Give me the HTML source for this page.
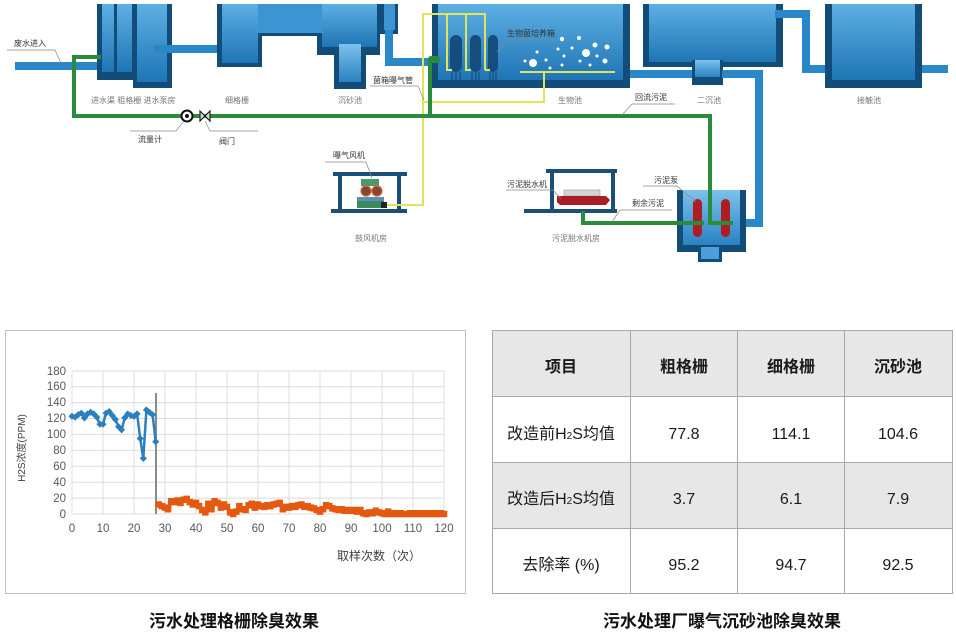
<!DOCTYPE html>
<html><head><meta charset="utf-8">
<style>
html,body{margin:0;padding:0;background:#fff;}
svg{display:block;}
text{font-family:"Liberation Sans","Noto Sans CJK SC",sans-serif;}
</style></head>
<body>
<svg width="956" height="634" viewBox="0 0 956 634" xmlns="http://www.w3.org/2000/svg">
<defs>
<linearGradient id="tk" x1="0" y1="0" x2="0" y2="1">
<stop offset="0" stop-color="#5db0e3"/><stop offset="1" stop-color="#1f75b5"/>
</linearGradient>
<linearGradient id="tk2" x1="0" y1="0" x2="0" y2="1">
<stop offset="0" stop-color="#7cc2ec"/><stop offset="1" stop-color="#2a82c2"/>
</linearGradient>
</defs>
<rect width="956" height="634" fill="#fff"/>

<!-- ===== Top process diagram ===== -->
<g fill="#2b88c8">
<rect x="15" y="62" width="84" height="8"/>
</g>
<!-- left group -->
<rect x="97" y="4" width="40" height="76" fill="#124d7a"/>
<rect x="133" y="4" width="39" height="84" fill="#124d7a"/>
<rect x="102" y="4" width="12" height="68" fill="url(#tk)"/>
<rect x="117" y="4" width="15" height="68" fill="url(#tk)"/>
<rect x="137" y="4" width="30" height="78" fill="url(#tk)"/>
<rect x="154" y="45" width="65" height="8" fill="#2b88c8"/>
<!-- fine screen + channel + grit -->
<rect x="217" y="4" width="45" height="63" fill="#124d7a"/>
<rect x="222" y="4" width="36" height="59" fill="url(#tk)"/>
<rect x="258" y="4" width="62" height="32" fill="#124d7a"/>
<rect x="317" y="4" width="63" height="51" fill="#124d7a"/>
<rect x="334" y="47" width="32" height="42" fill="#124d7a"/>
<rect x="258" y="4" width="64" height="29" fill="#3c95d2"/>
<rect x="322" y="4" width="55" height="43" fill="url(#tk)"/>
<rect x="339" y="44" width="22" height="38" fill="url(#tk2)"/>
<rect x="380" y="4" width="18" height="30" fill="#124d7a"/>
<rect x="384" y="4" width="11" height="26" fill="#3c95d2"/>
<rect x="385" y="30" width="8" height="36" fill="#2b88c8"/>
<rect x="385" y="58" width="50" height="8" fill="#2b88c8"/>

<!-- bio tank -->
<rect x="432" y="4" width="198" height="84" fill="#124d7a"/>
<rect x="438" y="4" width="185" height="76" fill="url(#tk)"/>
<g fill="#154e7c">
<rect x="450" y="35" width="12" height="37" rx="6"/>
<rect x="470" y="35" width="11" height="37" rx="5.5"/>
<rect x="488" y="35" width="10" height="37" rx="5"/>
</g>
<g stroke="#154e7c" stroke-width="1.2">
<path d="M452 72V80M456 72V80M460 72V80M472 72V80M476 72V80M479 72V80M490 72V80M493 72V80M496 72V80"/>
</g>
<g fill="#fff">
<circle cx="525" cy="61" r="1.5"/><circle cx="533" cy="63" r="4"/><circle cx="537" cy="52" r="1.5"/>
<circle cx="546" cy="60" r="1.5"/><circle cx="550" cy="68" r="1.5"/><circle cx="562" cy="39" r="2.2"/>
<circle cx="558" cy="49" r="1.5"/><circle cx="564" cy="56" r="1.5"/><circle cx="562" cy="65" r="1.5"/>
<circle cx="572" cy="48" r="1.5"/><circle cx="579" cy="38" r="2"/><circle cx="586" cy="53" r="4"/>
<circle cx="580" cy="61" r="1.5"/><circle cx="595" cy="45" r="2.5"/><circle cx="607" cy="47" r="2.5"/>
<circle cx="597" cy="56" r="1.5"/><circle cx="590" cy="65" r="1.5"/><circle cx="605" cy="61" r="2.5"/>
</g>

<!-- secondary clarifier -->
<rect x="630" y="70" width="65" height="8" fill="#2b88c8"/>
<rect x="643" y="4" width="140" height="63" fill="#124d7a"/>
<rect x="649" y="4" width="127" height="58" fill="url(#tk)"/>
<rect x="692" y="60" width="31" height="25" fill="#124d7a"/>
<rect x="695" y="60" width="25" height="17" fill="url(#tk2)"/>
<rect x="722" y="70" width="41" height="8" fill="#2b88c8"/>
<rect x="755" y="70" width="8" height="157" fill="#2b88c8"/>
<rect x="745" y="219" width="18" height="8" fill="#2b88c8"/>
<rect x="775" y="10" width="35" height="8" fill="#2b88c8"/>
<rect x="802" y="10" width="8" height="63" fill="#2b88c8"/>
<rect x="802" y="65" width="26" height="8" fill="#2b88c8"/>
<!-- contact tank -->
<rect x="825" y="4" width="97" height="84" fill="#124d7a"/>
<rect x="832" y="4" width="83" height="76" fill="url(#tk)"/>
<rect x="922" y="65" width="26" height="8" fill="#2b88c8"/>

<!-- sludge pump tank -->
<rect x="677" y="190" width="69" height="62" fill="#124d7a"/>
<rect x="683" y="190" width="57" height="55" fill="url(#tk2)"/>
<rect x="698" y="247" width="24" height="15" fill="#124d7a"/>
<rect x="701" y="247" width="18" height="12" fill="#4aa0d8"/>
<g fill="#b01c24">
<rect x="693" y="199" width="9" height="38" rx="4.5"/>
<rect x="721" y="199" width="9" height="38" rx="4.5"/>
</g>

<!-- blower room -->
<g fill="#1b4f78">
<rect x="333" y="172" width="74" height="4"/>
<rect x="338" y="176" width="4" height="34"/>
<rect x="397" y="176" width="4" height="34"/>
<rect x="331" y="209" width="76" height="4"/>
</g>
<rect x="361" y="179" width="18" height="7" fill="#4a9a6a"/>
<circle cx="366" cy="191" r="5" fill="#7b4a3a" stroke="#e0602a" stroke-width="1.2"/>
<circle cx="377" cy="191" r="5" fill="#7b4a3a" stroke="#e0602a" stroke-width="1.2"/>
<rect x="357" y="197" width="27" height="4" fill="#5a8fc0"/>
<rect x="357" y="201" width="27" height="7" fill="#3d8a5a"/>
<rect x="381" y="202" width="6" height="6" fill="#222"/>

<!-- dewatering room -->
<g fill="#1b4f78">
<rect x="546" y="169" width="71" height="4"/>
<rect x="550" y="173" width="4" height="36"/>
<rect x="611" y="173" width="4" height="36"/>
<rect x="524" y="209" width="93" height="4"/>
</g>
<rect x="564" y="190" width="36" height="6" fill="#d4d4d4" stroke="#999" stroke-width="0.6"/>
<polygon points="557,196 606,196 610,200 606,205 560,205 557,202" fill="#a81e22"/>

<!-- yellow air pipes -->
<g fill="none" stroke="#e2e35a" stroke-width="2">
<path d="M387 205H423V14H485V70"/>
<path d="M447 14V70H452M466 14V70H471M485 70H490"/>
<path d="M423 102H544V72"/>
<path d="M520 72H615"/>
</g>

<!-- green sludge pipes -->
<g fill="none" stroke="#2a8c3a" stroke-width="4">
<path d="M101 57H74V116H710V223H733"/>
<path d="M430 60V116"/>
<path d="M583 211V223H704"/>
</g>
<rect x="428" y="56" width="12" height="7" rx="3" fill="#2a8c3a"/>

<!-- flow meter & valve -->
<circle cx="187" cy="116" r="5.5" fill="#fff" stroke="#111" stroke-width="2"/>
<circle cx="187" cy="116" r="2" fill="#111"/>
<path d="M200 111L210 121V111L200 121Z" fill="#cfe3cf" stroke="#222" stroke-width="1.2"/>

<!-- leaders -->
<g fill="none" stroke="#888" stroke-width="0.7">
<path d="M7 50H55L61 63"/>
<path d="M130 131H176L184 121"/>
<path d="M258 131H210L205 121"/>
<path d="M418 86H370M418 86L424 100"/>
<path d="M553 40H507L497 52"/>
<path d="M675 104H632L622 115"/>
<path d="M325 162H366L372 178"/>
<path d="M506 190H553L561 199"/>
<path d="M643 186H677L696 202"/>
<path d="M672 210H620L612 222"/>
</g>

<!-- diagram labels -->
<g font-size="8" fill="#333">
<text x="14" y="46">废水进入</text>
<text x="138" y="142">流量计</text>
<text x="219" y="144">阀门</text>
<text x="373" y="83">菌箱曝气管</text>
<text x="507" y="36">生物菌培养箱</text>
<text x="635" y="100">回流污泥</text>
<text x="333" y="158">曝气风机</text>
<text x="507" y="187">污泥脱水机</text>
<text x="654" y="183">污泥泵</text>
<text x="632" y="206">剩余污泥</text>
</g>
<g font-size="8" fill="#777">
<text x="91" y="103">进水渠 粗格栅 进水泵房</text>
<text x="225" y="103">细格栅</text>
<text x="338" y="103">沉砂池</text>
<text x="558" y="103">生物池</text>
<text x="697" y="103">二沉池</text>
<text x="857" y="103">接触池</text>
<text x="355" y="241">鼓风机房</text>
<text x="552" y="241">污泥脱水机房</text>
</g>

<!-- ===== Chart ===== -->
<rect x="5.5" y="330.5" width="460" height="263" fill="#fff" stroke="#c0c0c0" stroke-width="1"/>
<g stroke="#dcdcdc" stroke-width="1">
<path d="M72 514H444M72 498.1H444M72 482.2H444M72 466.3H444M72 450.4H444M72 434.4H444M72 418.5H444M72 402.6H444M72 386.7H444M72 371H444"/>
<path d="M72 371V514M103 371V514M134 371V514M165 371V514M196 371V514M227 371V514M258 371V514M289 371V514M320 371V514M351 371V514M382 371V514M413 371V514M444 371V514"/>
</g>
<g font-size="11.5" fill="#595959" text-anchor="end">
<text x="66" y="518">0</text><text x="66" y="502">20</text><text x="66" y="486">40</text>
<text x="66" y="470">60</text><text x="66" y="454">80</text><text x="66" y="438">100</text>
<text x="66" y="422">120</text><text x="66" y="406">140</text><text x="66" y="390">160</text>
<text x="66" y="375">180</text>
</g>
<g font-size="11.5" fill="#595959" text-anchor="middle">
<text x="72" y="532">0</text><text x="103" y="532">10</text><text x="134" y="532">20</text>
<text x="165" y="532">30</text><text x="196" y="532">40</text><text x="227" y="532">50</text>
<text x="258" y="532">60</text><text x="289" y="532">70</text><text x="320" y="532">80</text>
<text x="351" y="532">90</text><text x="382" y="532">100</text><text x="413" y="532">110</text>
<text x="444" y="532">120</text>
</g>
<text x="337" y="560" font-size="12" fill="#404040">取样次数（次）</text>
<text transform="translate(25,448) rotate(-90)" font-size="10" fill="#404040" text-anchor="middle">H2S浓度(PPM)</text>

<path d="M156 393V514" stroke="#8a8a8a" stroke-width="2"/>

<polyline fill="none" stroke="#2a7fc1" stroke-width="2.5" points="72,416.3 75.1,417.1 78.2,414.7 81.3,413.1 84.4,417.9 87.5,413.9 90.6,412.3 93.7,413.9 96.8,417.1 99.9,424.2 103,424.2 106.1,413.1 109.2,411.5 112.3,415.5 115.4,419.5 118.5,426.6 121.6,429.8 124.7,417.9 127.8,413.9 130.9,415.5 134,416.3 137.1,413.9 140.2,438.5 143.3,458.4 146.4,409.9 149.5,412.3 152.6,414.7 155.7,441.7"/>
<path fill="none" stroke="#2a7fc1" stroke-width="5" stroke-linecap="square" d="M72 416.3l.01 .01M75.1 417.1l.01 .01M78.2 414.7l.01 .01M81.3 413.1l.01 .01M84.4 417.9l.01 .01M87.5 413.9l.01 .01M90.6 412.3l.01 .01M93.7 413.9l.01 .01M96.8 417.1l.01 .01M99.9 424.2l.01 .01M103 424.2l.01 .01M106.1 413.1l.01 .01M109.2 411.5l.01 .01M112.3 415.5l.01 .01M115.4 419.5l.01 .01M118.5 426.6l.01 .01M121.6 429.8l.01 .01M124.7 417.9l.01 .01M127.8 413.9l.01 .01M130.9 415.5l.01 .01M134 416.3l.01 .01M137.1 413.9l.01 .01M140.2 438.5l.01 .01M143.3 458.4l.01 .01M146.4 409.9l.01 .01M149.5 412.3l.01 .01M152.6 414.7l.01 .01M155.7 441.7l.01 .01"/>

<polyline fill="none" stroke="#e5580f" stroke-width="4" stroke-linejoin="round" points="158.8,504.5 161.9,506.1 165,507.6 168.1,509.2 171.2,501.3 174.3,502.1 177.4,500.5 180.5,502.9 183.6,499.7 186.7,498.9 189.8,502.1 192.9,504.5 196,502.9 199.1,506.1 202.2,510 205.3,512.4 208.4,503.7 211.5,509.2 214.6,501.3 217.7,502.9 220.8,507.6 223.9,504.5 227,506.9 230.1,512.4 233.2,514 236.3,511.6 239.4,506.1 242.5,509.2 245.6,510 248.7,505.3 251.8,503.7 254.9,507.6 258,504.5 261.1,506.1 264.2,506.9 267.3,505.3 270.4,506.1 273.5,504.5 276.6,503.7 279.7,502.9 282.8,509.2 285.9,506.9 289,507.6 292.1,506.1 295.2,506.9 298.3,505.3 301.4,504.5 304.5,506.9 307.6,506.1 310.7,507.6 313.8,508.4 316.9,510 320,511.6 323.1,509.2 326.2,505.3 329.3,506.1 332.4,508.4 335.5,509.2 338.6,510 341.7,509.2 344.8,510.8 347.9,510 351,510.8 354.1,510 357.2,511.6 360.3,510 363.4,513.2 366.5,514 369.6,512.4 372.7,513.2 375.8,510.8 378.9,512.4 382,513.2 385.1,514 388.2,511.6 391.3,514 394.4,513.2 397.5,514 400.6,513.2 403.7,514 406.8,514 409.9,513.2 413,514 416.1,513.2 419.2,514 422.3,513.2 425.4,514 428.5,513.2 431.6,514 434.7,513.2 437.8,514 440.9,513.2 444,514"/>
<path fill="none" stroke="#e5580f" stroke-width="6.5" stroke-linecap="square" d="M158.8 504.5h.01M161.9 506.1h.01M165 507.6h.01M168.1 509.2h.01M171.2 501.3h.01M174.3 502.1h.01M177.4 500.5h.01M180.5 502.9h.01M183.6 499.7h.01M186.7 498.9h.01M189.8 502.1h.01M192.9 504.5h.01M196 502.9h.01M199.1 506.1h.01M202.2 510h.01M205.3 512.4h.01M208.4 503.7h.01M211.5 509.2h.01M214.6 501.3h.01M217.7 502.9h.01M220.8 507.6h.01M223.9 504.5h.01M227 506.9h.01M230.1 512.4h.01M233.2 514h.01M236.3 511.6h.01M239.4 506.1h.01M242.5 509.2h.01M245.6 510h.01M248.7 505.3h.01M251.8 503.7h.01M254.9 507.6h.01M258 504.5h.01M261.1 506.1h.01M264.2 506.9h.01M267.3 505.3h.01M270.4 506.1h.01M273.5 504.5h.01M276.6 503.7h.01M279.7 502.9h.01M282.8 509.2h.01M285.9 506.9h.01M289 507.6h.01M292.1 506.1h.01M295.2 506.9h.01M298.3 505.3h.01M301.4 504.5h.01M304.5 506.9h.01M307.6 506.1h.01M310.7 507.6h.01M313.8 508.4h.01M316.9 510h.01M320 511.6h.01M323.1 509.2h.01M326.2 505.3h.01M329.3 506.1h.01M332.4 508.4h.01M335.5 509.2h.01M338.6 510h.01M341.7 509.2h.01M344.8 510.8h.01M347.9 510h.01M351 510.8h.01M354.1 510h.01M357.2 511.6h.01M360.3 510h.01M363.4 513.2h.01M366.5 514h.01M369.6 512.4h.01M372.7 513.2h.01M375.8 510.8h.01M378.9 512.4h.01M382 513.2h.01M385.1 514h.01M388.2 511.6h.01M391.3 514h.01M394.4 513.2h.01M397.5 514h.01M400.6 513.2h.01M403.7 514h.01M406.8 514h.01M409.9 513.2h.01M413 514h.01M416.1 513.2h.01M419.2 514h.01M422.3 513.2h.01M425.4 514h.01M428.5 513.2h.01M431.6 514h.01M434.7 513.2h.01M437.8 514h.01M440.9 513.2h.01M444 514h.01"/>

<!-- ===== Table ===== -->
<rect x="492.5" y="330.5" width="460" height="66" fill="#e7e7e7"/>
<rect x="492.5" y="462" width="460" height="66" fill="#e7e7e7"/>
<g stroke="#a8a8a8" stroke-width="1" fill="none">
<rect x="492.5" y="330.5" width="460" height="263"/>
<path d="M492.5 396.5H952.5M492.5 462.5H952.5M492.5 528.5H952.5"/>
<path d="M630.5 330.5V593.5M737.5 330.5V593.5M844.5 330.5V593.5"/>
</g>
<g font-size="16" fill="#1a1a1a" text-anchor="middle" font-weight="bold">
<text x="561" y="372">项目</text>
<text x="684" y="372">粗格栅</text>
<text x="791" y="372">细格栅</text>
<text x="898" y="372">沉砂池</text>
</g>
<g font-size="16" fill="#1a1a1a" text-anchor="middle">
<text x="561" y="439">改造前H<tspan font-size="10">2</tspan>S均值</text>
<text x="684" y="439">77.8</text>
<text x="791" y="439">114.1</text>
<text x="898" y="439">104.6</text>
<text x="561" y="504">改造后H<tspan font-size="10">2</tspan>S均值</text>
<text x="684" y="504">3.7</text>
<text x="791" y="504">6.1</text>
<text x="898" y="504">7.9</text>
<text x="561" y="570">去除率 (%)</text>
<text x="684" y="570">95.2</text>
<text x="791" y="570">94.7</text>
<text x="898" y="570">92.5</text>
</g>

<!-- captions -->
<g font-size="17" fill="#111" text-anchor="middle" font-weight="bold">
<text x="234" y="627">污水处理格栅除臭效果</text>
<text x="722" y="627">污水处理厂曝气沉砂池除臭效果</text>
</g>
</svg>
</body></html>
